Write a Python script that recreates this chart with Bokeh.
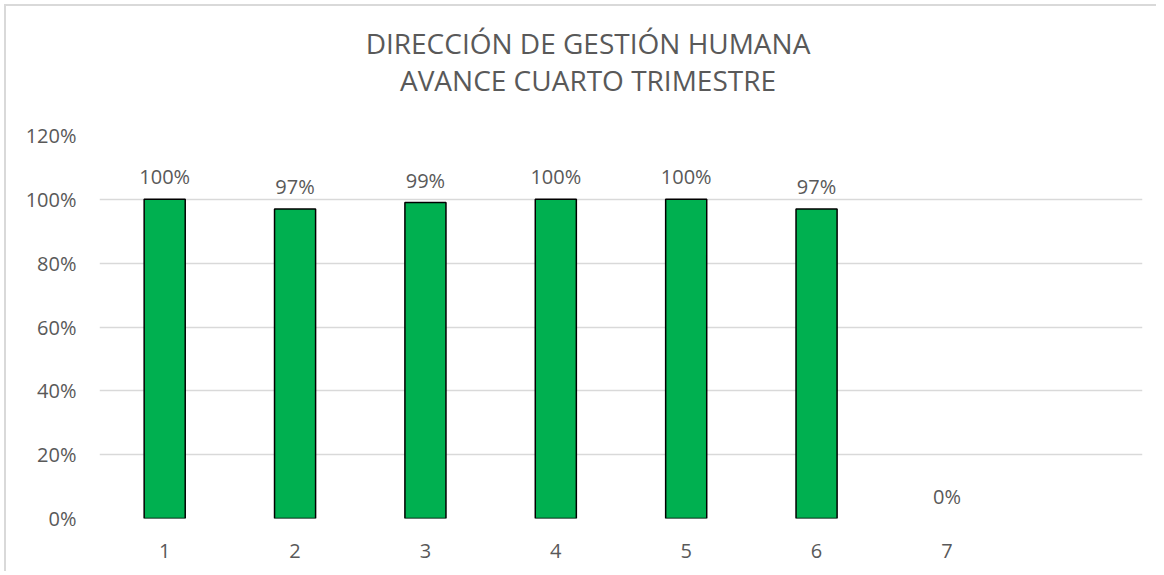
from bokeh.plotting import figure
from bokeh.models import ColumnDataSource, NumeralTickFormatter, Range1d, FactorRange, LabelSet, FixedTicker, Div
from bokeh.layouts import column
from bokeh.core.properties import value
from bokeh.embed import file_html
from bokeh.resources import INLINE

categories = ["1", "2", "3", "4", "5", "6", "7", " "]
values = [1.00, 0.97, 0.99, 1.00, 1.00, 0.97, 0.0]
label_texts = ["100%", "97%", "99%", "100%", "100%", "97%", "0%"]
title_lines = ["DIRECCIÓN DE GESTIÓN HUMANA", "AVANCE CUARTO TRIMESTRE"]

FONT = "Open Sans"
TXT = "#595959"

outline = ["black" if v > 0 else None for v in values]
src = ColumnDataSource(dict(x=categories[:len(values)], top=values, lab=label_texts, lc=outline))

title_html = "<br>".join(title_lines)
title_div = Div(
    text=f'<div style="display:block; width:1150px; box-sizing:border-box; '
         f'font-family:\'Open Sans\'; font-size:28px; line-height:37px; color:{TXT}; '
         f'text-align:center; padding-left:14px; padding-top:19px;">{title_html}</div>',
    width=1150, height=110, margin=0)

p = figure(x_range=FactorRange(*categories, range_padding=0), y_range=Range1d(0, 1.2),
           width=1150, height=455, output_backend="svg", toolbar_location=None,
           min_border_left=93, min_border_right=14, min_border_top=19, min_border_bottom=53)
p.margin = 0

p.vbar(x="x", top="top", width=0.315, source=src, fill_color="#00B050",
       line_color="lc", line_width=1.5)

labels = LabelSet(x="x", y="top", text="lab", source=src, text_align="center",
                  text_baseline="bottom", y_offset=9, text_font=value(FONT),
                  text_font_size="20px", text_color=TXT)
p.add_layout(labels)

p.yaxis.ticker = FixedTicker(ticks=[0, 0.2, 0.4, 0.6, 0.8, 1.0, 1.2])
p.yaxis.formatter = NumeralTickFormatter(format="0%")
for ax in (p.xaxis, p.yaxis):
    ax.axis_line_color = None
    ax.major_tick_line_color = None
    ax.minor_tick_line_color = None
    ax.major_label_text_font = FONT
    ax.major_label_text_font_size = "20px"
    ax.major_label_text_color = TXT
p.yaxis.major_label_standoff = 17
p.xaxis.major_label_standoff = 12

p.xgrid.grid_line_color = None
p.ygrid.grid_line_color = "#d9d9d9"
p.ygrid.grid_line_width = 1.5
p.outline_line_color = None

layout = column(title_div, p, spacing=0, margin=(4, 0, 0, 4))
layout.styles = {"border-top": "2px solid #d9d9d9", "border-left": "2px solid #d9d9d9",
                 "background-color": "white"}

open("out.html", "w").write(file_html(layout, INLINE))
